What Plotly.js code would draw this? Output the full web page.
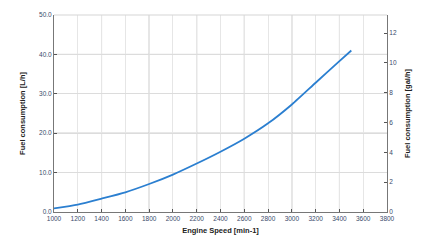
<!DOCTYPE html>
<html><head><meta charset="utf-8">
<script src="https://cdn.plot.ly/plotly-3.0.1.min.js"></script>
<style>html,body{margin:0;padding:0;background:#fff;}#c{width:427px;height:246px;}</style>
</head><body><div id="c"></div>
<script>
const engineSpeed = [1000,1200,1400,1600,1800,2000,2200,2400,2600,2800,3000,3200,3400,3500];
const fuelLh = [0.9,1.9,3.4,5.0,7.1,9.5,12.3,15.3,18.6,22.5,27.3,32.8,38.3,41.0];
const LITRES_PER_GALLON = 3.785;
const fuelGalh = fuelLh.map(v => v / LITRES_PER_GALLON);
const xTicks = [1000,1200,1400,1600,1800,2000,2200,2400,2600,2800,3000,3200,3400,3600,3800];
const yTicks = [0,10,20,30,40,50];
const yTickLabels = ['0.0','10.0','20.0','30.0','40.0','50.0'];
const y2Ticks = [0,2,4,6,8,10,12];

const tickFont = {family:'Liberation Sans, Arial, sans-serif', size:6.5, color:'#3a4a6a'};
const titleFont = {family:'Liberation Sans, Arial, sans-serif', size:7.5, color:'#222'};

const majorX = xTicks.filter(v => (v - 1000) % 400 === 0 && v > 1000 && v < 3800);
const majorY = yTicks.filter(v => v % 20 === 0 && v > 0 && v < 50);
const shapes = [];
majorX.forEach(v => shapes.push({type:'line', layer:'below', xref:'x', yref:'paper', x0:v, x1:v, y0:0, y1:1, line:{color:'#bdbdbd', width:1}}));
majorY.forEach(v => shapes.push({type:'line', layer:'below', xref:'paper', yref:'y', x0:0, x1:1, y0:v, y1:v, line:{color:'#b5b5b5', width:1}}));
shapes.push({type:'line', xref:'paper', yref:'paper', x0:0, x1:1, y0:1, y1:1, line:{color:'#d5d5d5', width:1}});

const traces = [
  {x: engineSpeed, y: fuelLh, type:'scatter', mode:'lines', line:{color:'#2b7fd0', width:1.8, shape:'spline', smoothing:0.6}, hoverinfo:'skip'},
  {x: engineSpeed, y: fuelGalh, type:'scatter', mode:'lines', yaxis:'y2', line:{color:'rgba(0,0,0,0)', width:0}, hoverinfo:'skip'}
];
const layout = {
  width:427, height:246,
  margin:{l:54, r:40, t:15, b:34},
  paper_bgcolor:'#fff', plot_bgcolor:'#fff',
  showlegend:false,
  xaxis:{
    range:[1000,3800], tickvals:xTicks, ticktext:xTicks.map(String),
    tickfont:tickFont, ticks:'inside', ticklen:3, tickcolor:'#555',
    showgrid:true, gridcolor:'#e6e6e6', gridwidth:1,
    showline:true, linecolor:'#777', linewidth:1, mirror:false,
    zeroline:false, tickangle:0,
    title:{text:'<b>Engine Speed [min-1]</b>', font:titleFont, standoff:6}
  },
  yaxis:{
    range:[0,50], tickvals:yTicks, ticktext:yTickLabels,
    tickfont:tickFont, ticks:'inside', ticklen:3, tickcolor:'#555',
    showgrid:true, gridcolor:'#dcdcdc', gridwidth:1,
    showline:true, linecolor:'#777', linewidth:1,
    zeroline:false,
    title:{text:'<b>Fuel consumption [L/h]</b>', font:titleFont, standoff:12}
  },
  yaxis2:{
    range:[0, 50/LITRES_PER_GALLON], overlaying:'y', side:'right',
    tickvals:y2Ticks, ticktext:y2Ticks.map(String),
    tickfont:tickFont, ticks:'inside', ticklen:3, tickcolor:'#555',
    showgrid:false, showline:true, linecolor:'#777', linewidth:1,
    zeroline:false,
    title:{text:'<b>Fuel consumption [gal/h]</b>', font:titleFont, standoff:8}
  },
  shapes: shapes
};
Plotly.newPlot('c', traces, layout, {staticPlot:true, displayModeBar:false});
</script>
</body></html>
